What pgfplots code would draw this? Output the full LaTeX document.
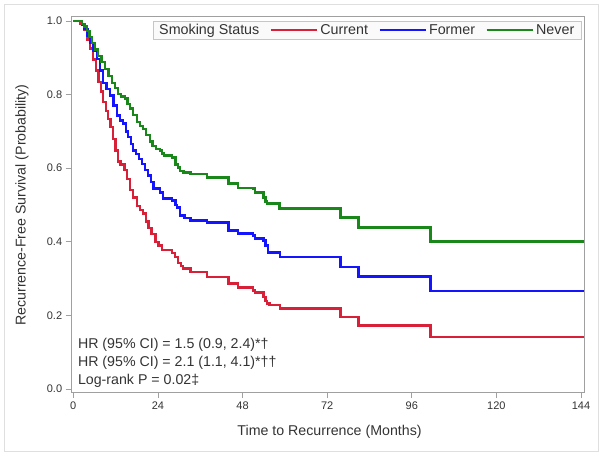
\documentclass[border=0pt]{standalone}
\usepackage{pgfplots}
\pgfplotsset{compat=1.18}
\usepackage{fontspec}
\setmainfont{Liberation Sans}
\definecolor{cCur}{RGB}{216,32,56}
\definecolor{cFor}{RGB}{20,20,255}
\definecolor{cNev}{RGB}{26,135,26}
\definecolor{txt}{RGB}{51,51,51}
\definecolor{frm}{RGB}{160,160,160}
\begin{document}
\begin{tikzpicture}
\useasboundingbox (0,0) rectangle (604pt,455pt);
\draw[gray!25] (4pt,4pt) rectangle (598pt,451pt);
\begin{axis}[
  at={(71.7pt,63pt)}, anchor=south west,
  scale only axis, width=512.6pt, height=376pt,
  xmin=-0.45, xmax=144.94, ymin=-0.008, ymax=1.0135,
  xtick={0,24,48,72,96,120,144},
  ytick={0,0.2,0.4,0.6,0.8,1.0},
  /pgf/number format/assume math mode=true,
  yticklabel style={/pgf/number format/fixed,/pgf/number format/fixed zerofill,/pgf/number format/precision=1},
  tick label style={font=\fontsize{11}{13}\selectfont, text=txt},
  tick align=outside, tick pos=left, major tick length=6pt,
  every tick/.style={frm, line width=0.8pt},
  axis line style={frm, line width=0.8pt},
  xlabel={Time to Recurrence (Months)},
  ylabel={Recurrence-Free Survival (Probability)},
  label style={font=\fontsize{14.2}{16}\selectfont, text=txt},
  xlabel style={at={(axis description cs:0.503,-0.1064)}, anchor=center},
  ylabel style={at={(axis description cs:-0.097,0.497)}, anchor=center},
  legend columns=4,
  legend style={at={(axis description cs:0.9935,0.9867)}, anchor=north east,
    draw=gray!45, fill=gray!4, font=\fontsize{14.3}{16}\selectfont, text=txt,
    inner xsep=4pt, inner ysep=1pt,
    /tikz/every even column/.append style={column sep=8pt},
    nodes={inner xsep=2.5pt, inner ysep=2pt}},
  legend image code/.code={\draw[#1, line width=2pt] (0pt,0pt) -- (46pt,0pt);},
]
\addlegendimage{empty legend}
\addlegendentry{Smoking Status\hspace{19pt}}
\addplot[const plot, cCur, line width=2.4pt] coordinates {
(0,1.000) (2.0,0.992) (3.0,0.975) (4.0,0.950) (4.8,0.925) (5.6,0.895)
(6.4,0.865) (7.1,0.835) (7.8,0.808) (8.5,0.780) (9.2,0.756) (9.9,0.734)
(10.6,0.712) (11.3,0.680) (12.0,0.648) (12.7,0.618) (13.4,0.610) (14.5,0.595)
(15.3,0.570) (16.1,0.540) (17.0,0.520) (18.0,0.497) (19.0,0.487) (19.8,0.477)
(20.6,0.455) (21.3,0.437) (22.2,0.422) (23.3,0.400) (24.2,0.390) (25.2,0.378)
(28.0,0.370) (28.8,0.358) (29.7,0.342) (30.5,0.335) (31.1,0.327) (33.2,0.318)
(38.0,0.305) (44.0,0.287) (46.8,0.276) (51.0,0.268) (51.6,0.262) (54.0,0.250)
(54.5,0.240) (55.0,0.232) (55.6,0.228) (58.7,0.219) (75.8,0.196) (80.9,0.173)
(101.3,0.141) (144.9,0.141)
};
\addlegendentry{Current}
\addplot[const plot, cFor, line width=2.4pt] coordinates {
(0,1.000) (2.5,0.990) (3.2,0.978) (4.0,0.960) (4.7,0.940) (5.7,0.918)
(6.7,0.897) (7.6,0.865) (8.5,0.832) (9.4,0.815) (10.4,0.797) (11.4,0.770)
(12.4,0.743) (13.3,0.730) (14.1,0.721) (15.0,0.700) (15.5,0.685) (16.3,0.665)
(17.0,0.648) (17.8,0.638) (18.6,0.625) (19.5,0.612) (20.3,0.595) (21.2,0.580)
(22.0,0.562) (22.7,0.545) (24.6,0.534) (25.5,0.518) (28.0,0.512) (29.0,0.500)
(29.5,0.493) (30.3,0.472) (31.5,0.465) (33.2,0.458) (38.0,0.452) (44.0,0.431)
(46.8,0.423) (51.0,0.417) (51.6,0.409) (54.0,0.404) (54.5,0.390) (55.3,0.371)
(58.7,0.358) (75.8,0.331) (80.9,0.306) (101.3,0.266) (144.9,0.266)
};
\addlegendentry{Former}
\addplot[const plot, cNev, line width=2.4pt] coordinates {
(0,1.000) (2.5,0.992) (3.2,0.985) (3.9,0.973) (4.6,0.957) (5.3,0.940)
(6.2,0.922) (7.0,0.905) (8.0,0.888) (9.0,0.870) (10.0,0.850) (11.0,0.832)
(11.8,0.818) (12.7,0.802) (13.6,0.795) (14.7,0.789) (15.4,0.775) (16.1,0.762)
(17.0,0.745) (18.0,0.726) (18.9,0.715) (19.8,0.707) (20.7,0.690) (21.8,0.672)
(22.5,0.660) (23.5,0.652) (24.6,0.648) (25.2,0.640) (25.8,0.634) (28.0,0.629)
(29.0,0.610) (29.7,0.602) (30.3,0.593) (31.3,0.588) (33.2,0.585) (38.0,0.575)
(44.0,0.558) (46.8,0.547) (51.0,0.545) (51.6,0.534) (54.0,0.520) (54.5,0.510)
(55.0,0.504) (58.5,0.490) (75.8,0.466) (80.9,0.439) (101.3,0.401) (144.9,0.401)
};
\addlegendentry{Never}
\node[anchor=west, text=txt, font=\fontsize{14.2}{16}\selectfont, inner sep=0pt] at (axis description cs:0.012,0.125) {HR (95\% CI) = 1.5 (0.9, 2.4)*†};
\node[anchor=west, text=txt, font=\fontsize{14.2}{16}\selectfont, inner sep=0pt] at (axis description cs:0.012,0.077) {HR (95\% CI) = 2.1 (1.1, 4.1)*††};
\node[anchor=west, text=txt, font=\fontsize{14.2}{16}\selectfont, inner sep=0pt] at (axis description cs:0.012,0.030) {Log-rank P = 0.02‡};
\end{axis}
\end{tikzpicture}
\end{document}
